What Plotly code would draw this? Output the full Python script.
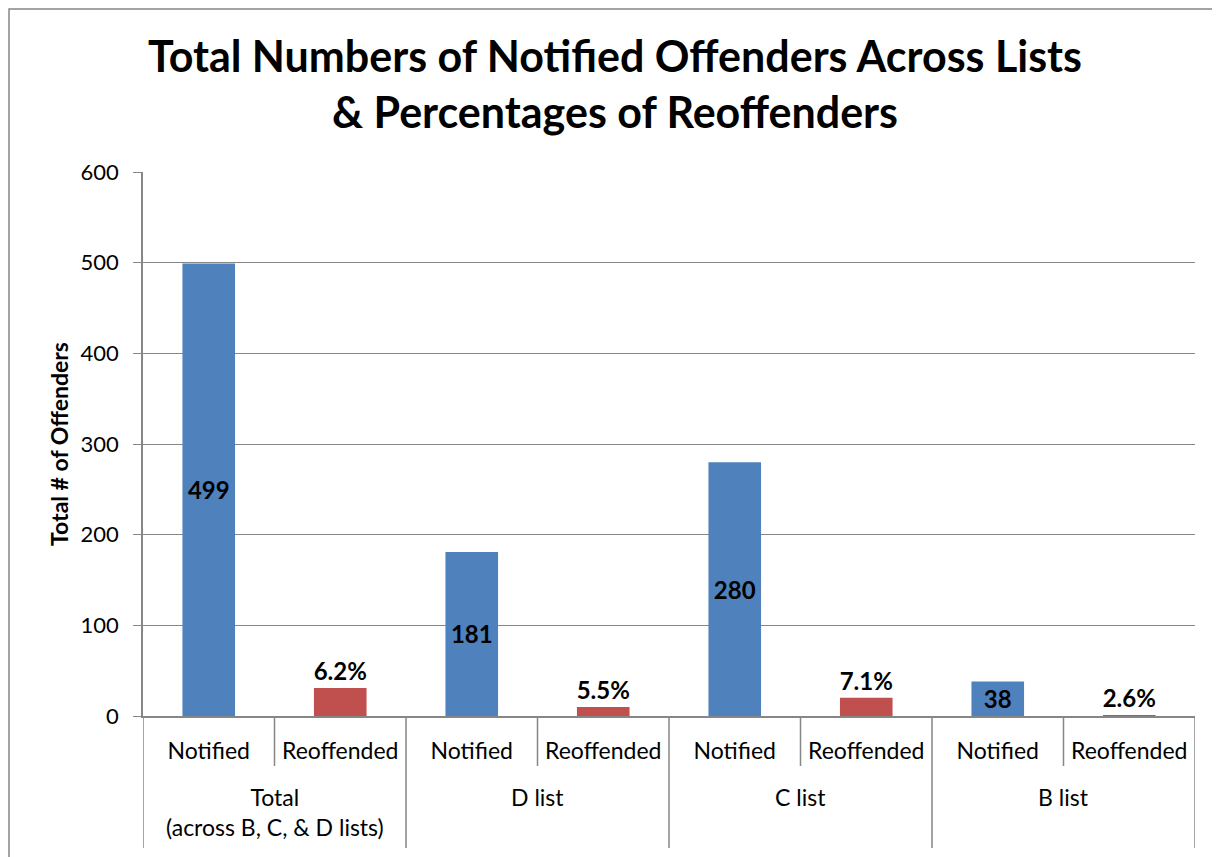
import plotly.graph_objects as go

groups = ["Total<br>(across B, C, & D lists)", "D list", "C list", "B list"]
measures = ["Notified", "Reoffended"]
notified = [499, 181, 280, 38]
reoffended = [31, 10, 20, 1]
reoffend_pct = ["6.2%", "5.5%", "7.1%", "2.6%"]

BLUE = "#4F81BD"
RED = "#C0504D"
GRAY = "#868686"
FONT = "Lato"

W, H = 1220, 857
ML, MR, MT, MB = 135, 33, 164, 149
PLOT_W = W - ML - MR
PLOT_H = H - MT - MB

xpos, sub_labels, y, colors, texts, tpos = [], [], [], [], [], []
i = 0
for g, n, r, p in zip(groups, notified, reoffended, reoffend_pct):
    for m, v, c, t, tp in zip(measures, [n, r], [BLUE, RED], [str(n), p], ["inside", "outside"]):
        xpos.append(i)
        sub_labels.append(m)
        y.append(v)
        colors.append(c)
        texts.append(t)
        tpos.append(tp)
        i += 1
n_cat = len(xpos)
n_sub = len(measures)

fig = go.Figure(go.Bar(
    x=xpos, y=y,
    marker=dict(color=colors, line=dict(width=0)),
    text=texts, textposition=tpos, insidetextanchor="middle", textangle=0,
    textfont=dict(family=FONT, size=24, color="black", weight="bold"),
    cliponaxis=False, constraintext="none", width=0.4,
))

fig.update_layout(
    width=W, height=H,
    paper_bgcolor="white", plot_bgcolor="white",
    margin=dict(l=ML, r=MR, t=MT, b=MB),
    showlegend=False,
    font=dict(family=FONT, color="black"),
    title=dict(
        text="Total Numbers of Notified Offenders Across Lists<br>&amp; Percentages of Reoffenders",
        x=(615 - 8) / W, xanchor="center", xref="container", yref="container",
        y=1 - 64 / H, yanchor="middle",
        font=dict(family=FONT, size=43, color="black", weight="bold"),
    ),
    uniformtext=dict(minsize=24, mode="show"),
)

fig.update_yaxes(
    range=[0, 600], dtick=100, showgrid=True, gridcolor=GRAY, gridwidth=1,
    showline=True, linecolor=GRAY, linewidth=1.5, ticks="outside", ticklen=8,
    tickcolor=GRAY, tickfont=dict(family=FONT, size=22, color="black"),
    ticklabelstandoff=10, automargin=False,
    zeroline=False,
    title=dict(text="Total # of Offenders", standoff=6,
               font=dict(family=FONT, size=23, color="black", weight="bold")),
)
fig.update_xaxes(
    range=[-0.5, n_cat - 0.5], showline=True, linecolor=GRAY, linewidth=1.5,
    tickmode="array", tickvals=xpos, ticktext=sub_labels, ticks="",
    tickfont=dict(family=FONT, size=23, color="black"), ticklabelstandoff=14,
    showgrid=False, zeroline=False, automargin=False,
)

# category separators below the axis (short between sub-categories, long between groups)
for b in range(n_cat + 1):
    is_group = b % n_sub == 0
    depth = 132 if is_group else 50
    fig.add_shape(type="line", xref="x", yref="paper",
                  x0=b - 0.5, x1=b - 0.5, y0=0, y1=-depth / PLOT_H,
                  line=dict(color=GRAY, width=1.5))

# group labels
for gi, g in enumerate(groups):
    fig.add_annotation(x=gi * n_sub + (n_sub - 1) / 2, xref="x", y=-65 / PLOT_H, yref="paper",
                       yanchor="top", text=g, showarrow=False,
                       font=dict(family=FONT, size=23, color="black"))

# outer chart frame
fig.add_shape(type="rect", xref="paper", yref="paper",
              x0=-(ML - 1) / PLOT_W, x1=1.1, y0=-0.5, y1=1 + (MT - 1) / PLOT_H,
              line=dict(color=GRAY, width=1.5), layer="below")

fig.write_html("out.html")
